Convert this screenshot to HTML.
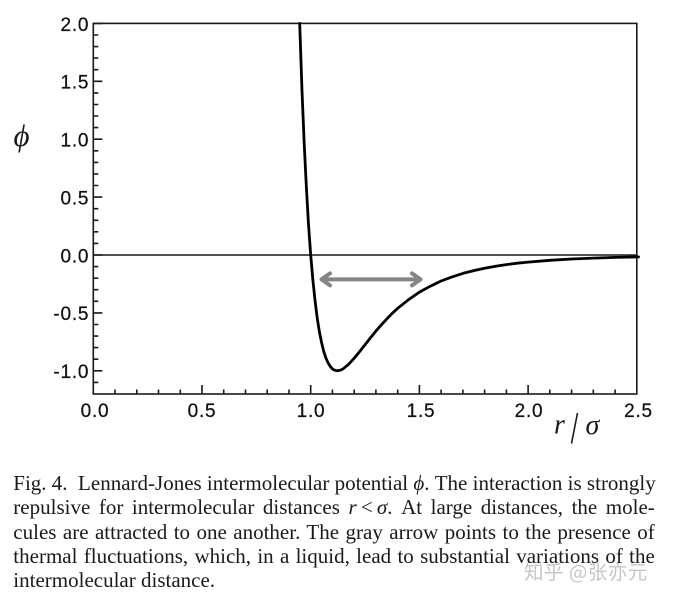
<!DOCTYPE html>
<html><head><meta charset="utf-8">
<style>
html,body{margin:0;padding:0;background:#fff;}
body{width:673px;height:614px;position:relative;overflow:hidden;}
.cap{position:absolute;left:13.3px;width:641.5px;font-family:"Liberation Serif",serif;font-size:21px;line-height:24.4px;color:#1a1a1a;white-space:nowrap;text-align:justify;text-align-last:justify;}
.cap.last{text-align:left;text-align-last:left;}
.cap i{font-style:italic;}
.wm{position:absolute;left:524px;top:559px;font-family:"Noto Sans CJK SC","WenQuanYi Zen Hei",sans-serif;font-size:19.5px;line-height:23px;letter-spacing:0.5px;color:rgba(150,150,150,0.55);white-space:nowrap;}
</style></head><body>
<svg width="673" height="614" viewBox="0 0 673 614" style="position:absolute;left:0;top:0">
  <g fill="none" stroke="#1a1a1a" stroke-width="1.6">
    <rect x="93.3" y="23.4" width="543.5" height="370.6"/>
    <line x1="93.3" y1="255" x2="636.8" y2="255" stroke-width="1.5"/>
    <path d="M93.3 23.4h9 M93.3 35h5 M93.3 46.6h5 M93.3 58.1h5 M93.3 69.7h5 M93.3 81.3h9 M93.3 92.9h5 M93.3 104.5h5 M93.3 116h5 M93.3 127.6h5 M93.3 139.2h9 M93.3 150.8h5 M93.3 162.4h5 M93.3 173.9h5 M93.3 185.5h5 M93.3 197.1h9 M93.3 208.7h5 M93.3 220.3h5 M93.3 231.8h5 M93.3 243.4h5 M93.3 255h9 M93.3 266.6h5 M93.3 278.2h5 M93.3 289.7h5 M93.3 301.3h5 M93.3 312.9h9 M93.3 324.5h5 M93.3 336.1h5 M93.3 347.6h5 M93.3 359.2h5 M93.3 370.8h9 M93.3 382.4h5"/>
    <path d="M115 394v-4.5 M136.8 394v-4.5 M158.5 394v-4.5 M180.3 394v-4.5 M202 394v-9 M223.7 394v-4.5 M245.5 394v-4.5 M267.2 394v-4.5 M289 394v-4.5 M310.7 394v-9 M332.4 394v-4.5 M354.2 394v-4.5 M375.9 394v-4.5 M397.7 394v-4.5 M419.4 394v-9 M441.1 394v-4.5 M462.9 394v-4.5 M484.6 394v-4.5 M506.4 394v-4.5 M528.1 394v-9 M549.8 394v-4.5 M571.6 394v-4.5 M593.3 394v-4.5 M615.1 394v-4.5"/>
  </g>
  <polyline fill="none" stroke="#000" stroke-width="2.8" stroke-linejoin="round" stroke-linecap="round"
    points="299.7,23.4 302.0,90.8 304.2,143.5 306.4,187.6 308.5,224.4 310.7,255 312.9,280.3 315.1,301.1 317.2,318.0 319.4,331.8 321.6,342.7 323.7,351.3 325.9,358.0 328.1,362.9 330.2,366.3 332.4,368.9 334.8,370.3 337.3,370.8 340.3,370.3 343.3,368.7 348.7,364.2 354.2,358.2 359.6,351.6 365.1,344.6 370.5,337.8 375.9,331.1 381.4,324.8 386.8,318.9 392.2,313.4 397.7,308.3 408.5,299.7 419.4,292.1 430.3,286.2 441.1,281.0 452.0,276.9 462.9,273.4 473.7,270.6 484.6,268.2 495.5,266.3 506.4,264.6 517.2,263.2 528.1,262.1 549.8,260.3 571.6,259.0 593.3,258.1 615.1,257.4 638.5,256.9"/>
  <g fill="none" stroke="#858585" stroke-width="4" stroke-linecap="round" stroke-linejoin="round">
    <line x1="322" y1="279.4" x2="420" y2="279.4"/>
    <polyline points="330,273.4 321.5,279.4 330,285.4"/>
    <polyline points="412,273.4 420.5,279.4 412,285.4"/>
  </g>
  <g font-family="Liberation Sans, Arial, sans-serif" font-size="19" letter-spacing="0.8" fill="#111" stroke="#111" stroke-width="0.25" text-anchor="end">
    <text x="89.3" y="30.9">2.0</text>
    <text x="89.3" y="88.6">1.5</text>
    <text x="89.3" y="146.5">1.0</text>
    <text x="89.3" y="204.4">0.5</text>
    <text x="89.3" y="262.3">0.0</text>
    <text x="89.3" y="320.2">-0.5</text>
    <text x="89.3" y="378.1">-1.0</text>
  </g>
  <g font-family="Liberation Sans, Arial, sans-serif" font-size="19" letter-spacing="0.8" fill="#111" stroke="#111" stroke-width="0.25" text-anchor="middle">
    <text x="95" y="416.8">0.0</text>
    <text x="202" y="416.8">0.5</text>
    <text x="311" y="416.8">1.0</text>
    <text x="421" y="416.8">1.5</text>
    <text x="529" y="416.8">2.0</text>
    <text x="638.5" y="416.8">2.5</text>
  </g>
  <text x="13.5" y="146" font-family="Liberation Serif, serif" font-style="italic" font-size="31" fill="#1a1a1a">ϕ</text>
  <text x="554" y="433.5" font-family="Liberation Serif, serif" font-style="italic" font-size="28" fill="#1a1a1a">r</text>
  <line x1="577.5" y1="413" x2="571.5" y2="443.5" stroke="#1a1a1a" stroke-width="1.6"/>
  <text x="585.5" y="434" font-family="Liberation Serif, serif" font-style="italic" font-size="28" fill="#1a1a1a">σ</text>
</svg>
<div class="cap" style="top:470.7px">Fig. 4.&nbsp; Lennard-Jones intermolecular potential <i>ϕ</i>. The interaction is strongly</div>
<div class="cap" style="top:495.1px">repulsive for intermolecular distances <i>r</i>&thinsp;&lt;&thinsp;<i>σ</i>. At large distances, the mole-</div>
<div class="cap" style="top:519.5px">cules are attracted to one another. The gray arrow points to the presence of</div>
<div class="cap" style="top:543.9px">thermal fluctuations, which, in a liquid, lead to substantial variations of the</div>
<div class="cap last" style="top:568.3px">intermolecular distance.</div>
<div class="wm">知乎 @张亦元</div>
</body></html>
